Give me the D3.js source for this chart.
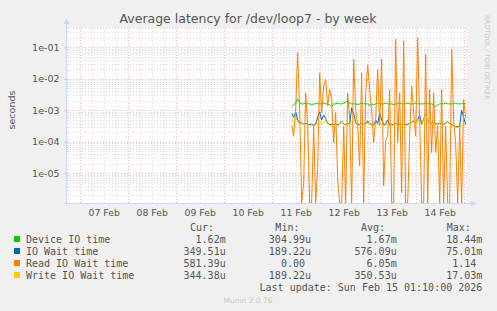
<!DOCTYPE html>
<html><head><meta charset="utf-8">
<script src="https://cdn.jsdelivr.net/npm/d3@7"></script>
<style>html,body{margin:0;padding:0;background:#f0f0f0;} svg{display:block;}</style>
</head><body><svg id="c" width="497" height="311"></svg>
<script>
// ---- data ----
const startTime = Date.UTC(2026, 1, 11, 10, 0); // first sample
const stepMs = 3600000; // 1 hour between samples
const seriesNames = ["Device IO time", "IO Wait time", "Read IO Wait time", "Write IO Wait time"];
const seriesColors = ["#00CC00", "#0066B3", "#FF8000", "#FFCC00"];
const curValues = ["1.62m", "349.51u", "581.39u", "344.38u"];
const minValues = ["304.99u", "189.22u", "0.00", "189.22u"];
const avgValues = ["1.67m", "576.09u", "6.05m", "350.53u"];
const maxValues = ["18.44m", "75.01m", "1.14", "17.03m"];
const yTickValues = [1e-1, 1e-2, 1e-3, 1e-4, 1e-5];
const yTickLabels = ["1e-01", "1e-02", "1e-03", "1e-04", "1e-05"];
const xTickDays = [7, 8, 9, 10, 11, 12, 13, 14];

const deviceIO = [1.3e-3,1.5e-3,1.7e-3,2.3e-3,1.7e-3,1.6e-3,1.6e-3,1.7e-3,1.6e-3,1.6e-3,
 1.5e-3,1.6e-3,1.6e-3,1.7e-3,1.6e-3,1.6e-3,1.7e-3,1.6e-3,1.6e-3,1.5e-3,
 1.3e-3,1.6e-3,1.6e-3,1.7e-3,1.6e-3,1.6e-3,1.7e-3,1.8e-3,2.0e-3,1.7e-3,
 1.6e-3,1.6e-3,1.6e-3,1.5e-3,1.6e-3,1.7e-3,1.6e-3,1.6e-3,1.6e-3,1.4e-3,
 1.6e-3,1.5e-3,1.6e-3,1.7e-3,1.6e-3,1.6e-3,1.6e-3,1.7e-3,1.6e-3,1.6e-3,
 1.6e-3,1.5e-3,1.6e-3,1.6e-3,1.7e-3,1.6e-3,1.6e-3,1.6e-3,1.7e-3,1.6e-3,
 1.6e-3,1.6e-3,1.7e-3,1.6e-3,1.6e-3,1.6e-3,1.6e-3,1.7e-3,1.6e-3,1.6e-3,
 1.6e-3,1.5e-3,1.3e-3,1.5e-3,1.6e-3,1.6e-3,1.6e-3,1.7e-3,1.6e-3,1.6e-3,
 1.6e-3,1.6e-3,1.7e-3,1.6e-3,1.6e-3,1.6e-3,1.7e-3,1.6e-3];

const ioWait = [8.0e-4,6.0e-4,9.0e-4,5.0e-4,4.0e-4,4.0e-4,3.6e-4,3.8e-4,3.6e-4,3.5e-4,
 3.6e-4,3.4e-4,3.6e-4,6.0e-4,9.0e-4,5.0e-4,7.0e-4,5.5e-4,3.8e-4,3.6e-4,
 3.4e-4,3.5e-4,3.6e-4,3.4e-4,3.8e-4,4.6e-4,3.7e-4,3.5e-4,3.8e-4,3.6e-4,
 1.2e-3,8.0e-4,4.0e-4,3.6e-4,3.5e-4,3.8e-4,3.6e-4,3.7e-4,4.6e-4,3.8e-4,
 3.5e-4,3.4e-4,4.8e-4,3.8e-4,8.0e-4,5.0e-4,3.5e-4,3.6e-4,5.0e-4,3.5e-4,
 3.4e-4,3.6e-4,3.8e-4,3.5e-4,3.6e-4,3.4e-4,3.7e-4,3.5e-4,3.6e-4,3.8e-4,
 4.2e-4,4.6e-4,3.8e-4,5.0e-4,7.0e-4,3.6e-4,5.2e-4,7.5e-4,4.8e-4,4.0e-4,
 3.8e-4,4.0e-4,3.8e-4,3.6e-4,3.9e-4,3.8e-4,3.6e-4,4.0e-4,4.4e-4,3.8e-4,
 3.5e-4,3.2e-4,3.1e-4,3.0e-4,3.2e-4,1.0e-3,6.0e-4,3.5e-4];

const readWait = [3.4e-4,1.5e-4,1.1e-3,6.7e-2,1.1e-3,0,4.9e-6,3.6e-3,3.2e-4,0,
 0,3.2e-4,0,1.4e-5,1.56e-2,8.4e-4,5.9e-3,9.6e-3,1.37e-3,4.6e-3,
 2.2e-3,9.4e-5,8.4e-4,6.6e-6,0,0,3.2e-4,0,3.6e-3,5.2e-4,
 0,4.2e-2,1.1e-3,3.2e-4,1.7e-5,1.56e-2,0,3.6e-3,2.7e-2,4.6e-3,
 1.0e-3,9.4e-5,5.2e-4,2.0e-2,3.2e-4,4.2e-2,4.0e-6,1.1e-4,1.5e-4,4.6e-3,
 0,0,1.8e-1,9.4e-5,3.6e-3,2.4e-6,1.6e-1,0,0,1.5e-4,
 5.9e-3,8.4e-4,1.5e-4,2.0e-1,5.2e-4,0,0,6.0e-2,0,4.6e-3,
 4.5e-5,3.6e-3,4.5e-5,3.2e-4,0,4.6e-3,0,3.2e-4,0,0,
 8.6e-2,5.2e-4,9.4e-5,0,3.2e-4,0,2.2e-3,5.8e-4];

const writeWait = [5.0e-4,4.0e-4,5.6e-4,4.5e-4,3.6e-4,3.8e-4,3.4e-4,3.6e-4,3.4e-4,3.3e-4,
 3.4e-4,3.2e-4,3.4e-4,4.0e-4,4.6e-4,3.6e-4,4.2e-4,4.8e-4,3.6e-4,3.4e-4,
 3.2e-4,3.3e-4,3.4e-4,3.2e-4,3.6e-4,4.4e-4,3.5e-4,3.3e-4,3.6e-4,3.4e-4,
 4.6e-4,5.6e-4,3.8e-4,3.4e-4,3.3e-4,3.6e-4,3.4e-4,3.5e-4,4.2e-4,3.6e-4,
 3.3e-4,3.2e-4,3.4e-4,3.6e-4,4.0e-4,3.6e-4,3.3e-4,3.4e-4,3.5e-4,3.3e-4,
 3.2e-4,3.4e-4,3.6e-4,3.3e-4,3.4e-4,3.2e-4,3.5e-4,3.3e-4,3.4e-4,3.6e-4,
 4.0e-4,4.4e-4,3.6e-4,4.8e-4,4.2e-4,3.4e-4,5.0e-4,7.0e-4,4.6e-4,3.8e-4,
 3.6e-4,3.8e-4,3.6e-4,3.4e-4,3.7e-4,3.6e-4,3.4e-4,3.8e-4,4.2e-4,3.6e-4,
 3.3e-4,3.0e-4,2.9e-4,2.8e-4,3.0e-4,3.2e-4,3.8e-4,3.4e-4];

// ---- chart ----
const W = 497, H = 311;
const L = 67, R = 467, T = 28, B = 203;
const svg = d3.select("#c");
const fontSans = "DejaVu Sans, sans-serif";
const fontMono = "DejaVu Sans Mono, monospace";

svg.append("rect").attr("width", W).attr("height", H).attr("fill", "#f0f0f0");
svg.append("rect").attr("x", L).attr("y", T).attr("width", R - L).attr("height", B - T).attr("fill", "#ffffff");

const x = d3.scaleUtc()
  .domain([Date.UTC(2026, 1, 6, 17, 40), Date.UTC(2026, 1, 15, 1, 40)])
  .range([L, R]);
const yMin = Math.pow(10, -5.943), yMax = Math.pow(10, -0.3873);
const y = d3.scaleLog().domain([yMin, yMax]).range([B, T]);

const minorCol = "rgba(200,200,200,0.7)";
const majorCol = "rgba(235,150,150,0.7)";

// grid
const grid = svg.append("g").attr("shape-rendering", "crispEdges");
d3.utcHour.every(6).range(x.domain()[0], x.domain()[1]).forEach(t => {
  const major = t.getUTCHours() === 0;
  const px = Math.round(x(t)) + 0.5;
  grid.append("line").attr("x1", px).attr("x2", px).attr("y1", T).attr("y2", B)
    .attr("stroke", major ? majorCol : minorCol)
    .attr("stroke-dasharray", "1,2");
});
for (let e = -6; e <= 0; e++) {
  for (let m = 1; m <= 9; m++) {
    const v = m * Math.pow(10, e);
    if (v < yMin || v > yMax) continue;
    const py = Math.round(y(v)) + 0.5;
    grid.append("line").attr("x1", L).attr("x2", R).attr("y1", py).attr("y2", py)
      .attr("stroke", m === 1 ? majorCol : minorCol)
      .attr("stroke-dasharray", "1,2");
  }
}

// series
const clipVal = v => Math.max(v, yMin);
const line = d3.line()
  .x((d, i) => x(startTime + i * stepMs))
  .y(d => y(clipVal(d)));
const plotG = svg.append("g");
[deviceIO, ioWait, readWait, writeWait].forEach((s, k) => {
  plotG.append("path").datum(s).attr("d", line)
    .attr("fill", "none").attr("stroke", seriesColors[k]).attr("stroke-width", 1);
});

// axes lines + arrows
const axisCol = "#CFD6F8";
svg.append("line").attr("x1", L - 0.5).attr("x2", L - 0.5).attr("y1", B + 3).attr("y2", T - 5)
  .attr("stroke", axisCol);
svg.append("path").attr("d", `M${L - 3.5},${T - 4} L${L - 0.5},${T - 10} L${L + 2.5},${T - 4} Z`).attr("fill", axisCol);
svg.append("line").attr("x1", L - 3).attr("x2", R + 5).attr("y1", B + 0.5).attr("y2", B + 0.5)
  .attr("stroke", axisCol);
svg.append("path").attr("d", `M${R + 4},${B - 2.5} L${R + 10},${B + 0.5} L${R + 4},${B + 3.5} Z`).attr("fill", axisCol);

// y axis labels
const yAxis = d3.axisLeft(y).tickValues(yTickValues)
  .tickFormat((d, i) => yTickLabels[i]).tickSize(2).tickPadding(5);
const gy = svg.append("g").attr("transform", `translate(${L - 0.5},0)`).call(yAxis);
gy.select(".domain").remove();
gy.selectAll(".tick line").attr("stroke", majorCol);
gy.selectAll("text").attr("font-family", fontSans).attr("font-size", 9.5).attr("fill", "#555");

// x axis labels (centered at noon)
const xAxis = d3.axisBottom(x)
  .tickValues(xTickDays.map(d => new Date(Date.UTC(2026, 1, d, 12, 0))))
  .tickFormat(d3.utcFormat("%d %b")).tickSize(0).tickPadding(6);
const gx = svg.append("g").attr("transform", `translate(0,${B})`).call(xAxis);
gx.select(".domain").remove();
gx.selectAll("text").attr("font-family", fontSans).attr("font-size", 9.3).attr("fill", "#555");

// title and labels
svg.append("text").attr("x", 248).attr("y", 22.5).attr("text-anchor", "middle")
  .attr("font-family", fontSans).attr("font-size", 12.5).attr("fill", "#555")
  .text("Average latency for /dev/loop7 - by week");
svg.append("text").attr("transform", "translate(15,110) rotate(-90)").attr("text-anchor", "middle")
  .attr("font-family", fontSans).attr("font-size", 9.5).attr("fill", "#555").text("seconds");
svg.append("text").attr("transform", "translate(485,15) rotate(90)").attr("text-anchor", "start")
  .attr("font-family", fontSans).attr("font-size", 6.6).attr("fill", "#c8c8c8")
  .text("RRDTOOL / TOBI OETIKER");

// legend
const lg = svg.append("g").attr("font-family", fontMono).attr("font-size", 10).attr("fill", "#555");
const cw = 6.02;
const colEdges = [225.7, 311, 396.7, 482.3];
const headers = ["Cur:", "Min:", "Avg:", "Max:"];
headers.forEach((h, i) => {
  lg.append("text").attr("x", colEdges[i] - 2 * cw + 0.5).attr("y", 231.3).attr("text-anchor", "end").text(h);
});
const cols = [curValues, minValues, avgValues, maxValues];
seriesNames.forEach((n, k) => {
  const yy = 243 + k * 12;
  lg.append("rect").attr("x", 14).attr("y", yy - 7).attr("width", 6).attr("height", 6).attr("fill", seriesColors[k]);
  lg.append("text").attr("x", 26).attr("y", yy).text(n);
  cols.forEach((c, i) => {
    const s = c[k];
    const hasUnit = /[a-zA-Z]$/.test(s);
    lg.append("text").attr("x", colEdges[i] - (hasUnit ? 0 : cw)).attr("y", yy)
      .attr("text-anchor", "end").text(s);
  });
});
lg.append("text").attr("x", 482.3).attr("y", 291).attr("text-anchor", "end")
  .text("Last update: Sun Feb 15 01:10:00 2026");
svg.append("text").attr("x", 248).attr("y", 302.5).attr("text-anchor", "middle")
  .attr("font-family", fontSans).attr("font-size", 7.5).attr("fill", "#c8c8c8").text("Munin 2.0.76");
</script>
</body></html>
